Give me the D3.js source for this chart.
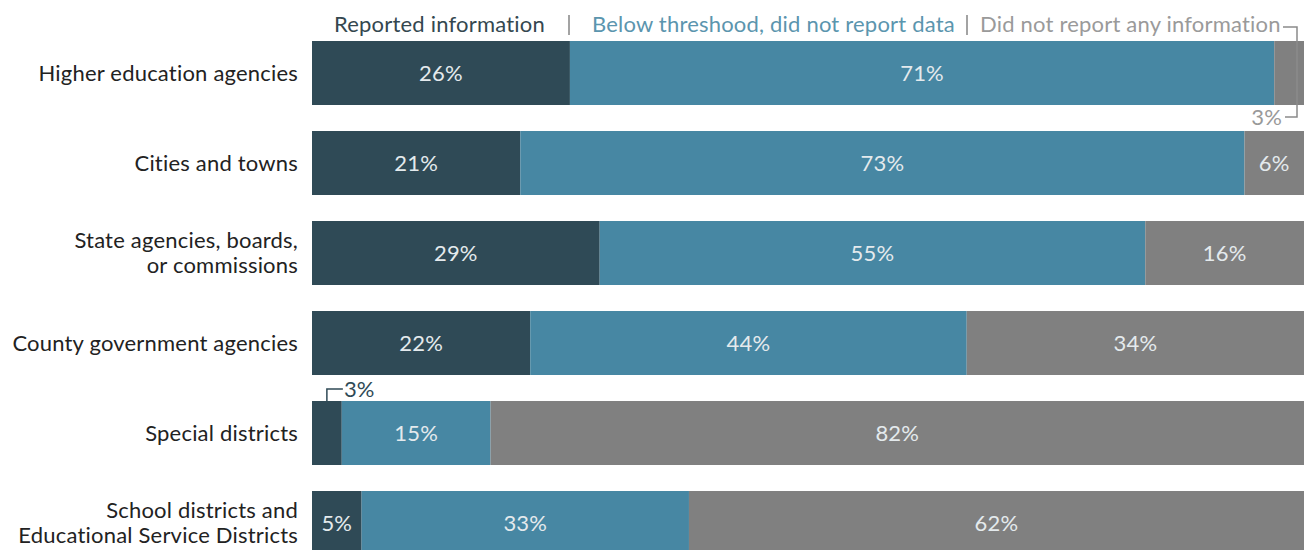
<!DOCTYPE html>
<html>
<head>
<meta charset="utf-8">
<script src="https://cdn.jsdelivr.net/npm/d3@7"></script>
<style>
  body { margin: 0; background: #fff; }
  svg { font-family: Lato, "Open Sans", sans-serif; letter-spacing: 0.2px; }
</style>
</head>
<body>
<svg id="chart" width="1304" height="550"></svg>
<script>
"use strict";

// categories (lines split where the reference wraps)
var categories = [
  ["Higher education agencies"],
  ["Cities and towns"],
  ["State agencies, boards,", "or commissions"],
  ["County government agencies"],
  ["Special districts"],
  ["School districts and", "Educational Service Districts"]
]
var reported = [26, 21, 29, 22, 3, 5]
var belowThreshold = [71, 73, 55, 44, 15, 33]
var noInfo = [3, 6, 16, 34, 82, 62]

var seriesNames = ["Reported information", "Below threshood, did not report data", "Did not report any information"]
var barColors = ["#2f4a56", "#4787a3", "#808080"]
var legendColors = ["#34474f", "#5b95ae", "#9a9a9a"]

var fontSize = 22

var svg = d3.select("#chart")

var x = d3.scaleLinear().domain([0, 100]).range([312, 1304])
var y = d3.scaleBand()
  .domain(d3.range(categories.length))
  .range([41, 555])
  .paddingInner(26 / 90)
  .paddingOuter(0)

// construit les segments empilés
var rows = categories.map((c, i) => {
  var vals = [reported[i], belowThreshold[i], noInfo[i]]
  var start = 0
  return vals.map((v, k) => {
    var seg = { row: i, key: k, value: v, x0: start, x1: start + v }
    start += v
    return seg
  })
})
var segments = rows.flat()

svg.append("g")
  .selectAll("rect")
  .data(segments)
  .enter()
  .append("rect")
    .attr("x", d => x(d.x0))
    .attr("y", d => y(d.row))
    .attr("width", d => x(d.x1) - x(d.x0))
    .attr("height", y.bandwidth())
    .attr("fill", d => barColors[d.key])

// étiquettes dans les barres (les petites valeurs sont sorties avec un crochet)
function isOutside(d) {
  return d.value <= 3
}

svg.append("g")
  .selectAll("text")
  .data(segments.filter(d => !isOutside(d)))
  .enter()
  .append("text")
    .attr("x", d => (x(d.x0) + x(d.x1)) / 2)
    .attr("y", d => y(d.row) + y.bandwidth() / 2)
    .attr("dy", "0.35em")
    .attr("text-anchor", "middle")
    .attr("font-size", fontSize)
    .attr("fill", "#e4eaed")
    .text(d => d.value + "%")

// catégories
var catText = svg.append("g")
  .selectAll("text")
  .data(categories)
  .enter()
  .append("text")
    .attr("text-anchor", "end")
    .attr("font-size", fontSize)
    .attr("fill", "#222")
    .attr("x", 298)
    .attr("y", (d, i) => y(i) + y.bandwidth() / 2)

catText.selectAll("tspan")
  .data(d => d.map((line, j) => ({ line: line, j: j, n: d.length })))
  .enter()
  .append("tspan")
    .attr("x", 298)
    .attr("dy", d => d.j === 0 ? (0.35 - (d.n - 1) * 0.57) + "em" : "1.14em")
    .text(d => d.line)

// légende
var legendX = [334, 592, 980]
var sepX = [569, 967]
var legend = svg.append("g").attr("font-size", fontSize)
legend.selectAll("text")
  .data(seriesNames)
  .enter()
  .append("text")
    .attr("x", (d, i) => legendX[i])
    .attr("y", 32)
    .attr("fill", (d, i) => legendColors[i])
    .text(d => d)
legend.selectAll("line")
  .data(sepX)
  .enter()
  .append("line")
    .attr("x1", d => d)
    .attr("x2", d => d)
    .attr("y1", 15)
    .attr("y2", 35)
    .attr("stroke", "#666")
    .attr("stroke-width", 1.2)

// crochets pour les petites valeurs
var bracketColor = "#8a8a8a"
var small = segments.filter(isOutside)
small.forEach(d => {
  var top = y(d.row)
  if (d.key === 2) {
    // dernière tranche : crochet à droite, relié à la légende
    var bx = 1297
    svg.append("path")
      .attr("d", "M1283," + 27 + "H" + bx + "V" + (top + y.bandwidth() + 12) + "H1285")
      .attr("fill", "none")
      .attr("stroke", bracketColor)
      .attr("stroke-width", 1.5)
    svg.append("text")
      .attr("x", 1282)
      .attr("y", top + y.bandwidth() + 12)
      .attr("dy", "0.35em")
      .attr("text-anchor", "end")
      .attr("font-size", fontSize)
      .attr("fill", "#999")
      .text(d.value + "%")
  } else {
    var cx = (x(d.x0) + x(d.x1)) / 2
    svg.append("path")
      .attr("d", "M" + cx + "," + top + "V" + (top - 12) + "H" + (cx + 16))
      .attr("fill", "none")
      .attr("stroke", barColors[0])
      .attr("stroke-width", 1.5)
    svg.append("text")
      .attr("x", cx + 17)
      .attr("y", top - 12)
      .attr("dy", "0.35em")
      .attr("font-size", fontSize)
      .attr("fill", barColors[0])
      .text(d.value + "%")
  }
})
</script>
</body>
</html>
